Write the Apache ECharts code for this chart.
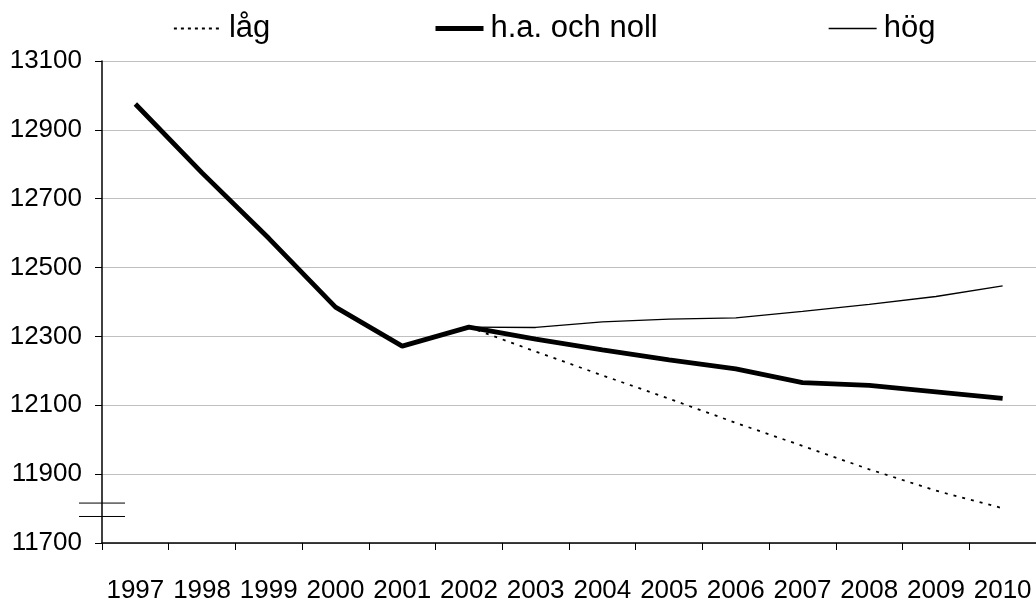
<!DOCTYPE html>
<html>
<head>
<meta charset="utf-8">
<script src="https://cdn.jsdelivr.net/npm/echarts@6/dist/echarts.min.js"></script>
<style>
html,body{margin:0;padding:0;background:#fff;}
#main{width:1036px;height:604px;}
</style>
</head>
<body>
<div id="main"></div>
<script>
var years = ['1997','1998','1999','2000','2001','2002','2003','2004','2005','2006','2007','2008','2009','2010'];
// h.a. och noll
var mellan = [12975, 12775, 12585, 12385, 12272, 12327, 12292, 12261, 12232, 12206, 12166, 12158, 12139, 12120];
// låg, hög (starts at 2002)
var lag = [null, null, null, null, null, 12327, 12256, 12187, 12119, 12049, 11982, 11914, 11852, 11801];
var hog = [null, null, null, null, null, 12327, 12326, 12342, 12350, 12354, 12373, 12393, 12416, 12447];
// y axis break marks
var breakMarks = [11816, 11777];

var font = '"Liberation Sans", Arial, sans-serif';
var chart = echarts.init(document.getElementById('main'));

// one legend per item so each sits where the original has it
function legendFor(name, left, width, dash) {
	return {
		left: left, top: 8,
		itemWidth: 48, itemHeight: 30,
		itemStyle: {opacity: 0},
		textStyle: {fontFamily: font, fontSize: 31, color: '#000', padding: [0, 0, 0, 2]},
		data: [{name: name, lineStyle: {width: width, type: dash, color: '#000'}}]
	};
}

var option = {
	animation: false,
	backgroundColor: '#fff',
	grid: {left: 102, top: 61, right: 0, bottom: 58, containLabel: false},
	legend: [
		legendFor('låg', 168, 1.8, [3, 4]),
		legendFor('h.a. och noll', 428, 5, 'solid'),
		legendFor('hög', 823, 1.3, 'solid')
	],
	xAxis: {
		type: 'category',
		data: years,
		boundaryGap: true,
		axisLine: {lineStyle: {color: '#000', width: 1.5}},
		axisTick: {show: true, length: 7, lineStyle: {color: '#000', width: 1}},
		axisLabel: {fontFamily: font, fontSize: 26, color: '#000', margin: 35, interval: 0},
		splitLine: {show: false}
	},
	yAxis: {
		type: 'value',
		min: 11700, max: 13100, interval: 200,
		axisLine: {show: true, lineStyle: {color: '#000', width: 1.5}},
		axisTick: {show: true, length: 7, lineStyle: {color: '#000', width: 1}},
		axisLabel: {fontFamily: font, fontSize: 26, color: '#000', margin: 20,
			formatter: function(v){ return String(v); }},
		splitLine: {show: true, lineStyle: {color: '#c0c0c0', width: 1}}
	},
	series: [
		{name: 'låg', type: 'line', data: lag, symbol: 'none', z: 2, color: '#000',
			lineStyle: {color: '#000', width: 1.8, type: [3, 6]}},
		{name: 'h.a. och noll', type: 'line', data: mellan, symbol: 'none', z: 3, color: '#000',
			lineStyle: {color: '#000', width: 4.8}},
		{name: 'hög', type: 'line', data: hog, symbol: 'none', z: 2, color: '#000',
			lineStyle: {color: '#000', width: 1.3}}
	]
};
chart.setOption(option);

// axis break marks
var marks = breakMarks.map(function(v){
	var y = chart.convertToPixel({yAxisIndex: 0}, v);
	return {type: 'line', shape: {x1: 79, y1: y, x2: 125, y2: y},
		style: {stroke: '#000', lineWidth: 1}};
});
chart.setOption({graphic: marks});
</script>
</body>
</html>
